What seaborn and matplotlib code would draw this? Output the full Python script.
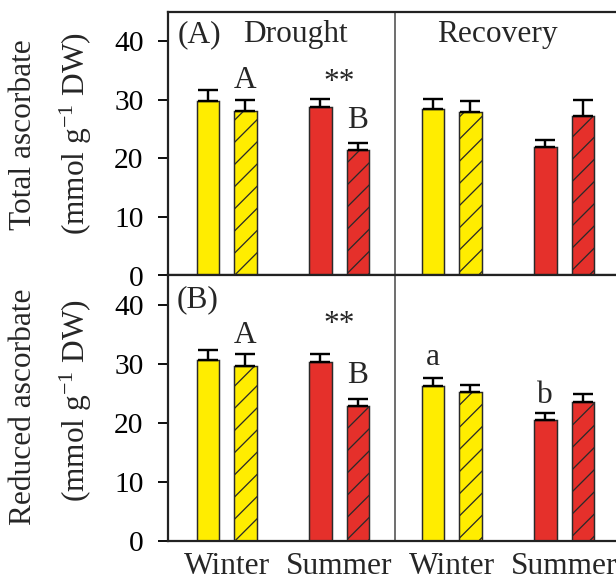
import numpy as np
import pandas as pd
import matplotlib
matplotlib.use("Agg")
import matplotlib.pyplot as plt
import seaborn as sns

# ---------------- data ----------------
groups = ["Drought-Winter", "Drought-Summer", "Recovery-Winter", "Recovery-Summer"]
group_labels = ["Winter", "Summer", "Winter", "Summer"]
seasons = ["Winter", "Summer", "Winter", "Summer"]
treatments = ["Control", "Stress"]

total_control = [29.8, 28.8, 28.4, 22.0]
total_control_err = [1.9, 1.3, 1.7, 1.1]
total_stress = [28.0, 21.5, 27.9, 27.3]
total_stress_err = [1.9, 1.1, 1.9, 2.6]

reduced_control = [30.7, 30.4, 26.2, 20.5]
reduced_control_err = [1.7, 1.3, 1.4, 1.2]
reduced_stress = [29.6, 22.9, 25.3, 23.6]
reduced_stress_err = [2.1, 1.1, 1.1, 1.3]

yticks = [0, 10, 20, 30, 40]
# annotations: (group index, treatment offset (-1 control, +1 stress, 0 pair), text, y value)
annot_total = [(0, 1, "A", 32.0), (1, 0, "**", 31.6), (1, 1, "B", 25.2)]
annot_reduced = [(0, 1, "A", 33.6), (1, 0, "**", 35.4), (1, 1, "B", 26.8),
                 (2, -1, "a", 29.8), (3, -1, "b", 23.4)]

season_colors = {"Winter": "#FFED00", "Summer": "#E5302B"}

# ---------------- style ----------------
sns.set_style("ticks")
plt.rcParams["font.family"] = ["Liberation Serif", "DejaVu Serif"]
plt.rcParams["mathtext.fontset"] = "custom"
plt.rcParams["mathtext.rm"] = "Liberation Serif"
plt.rcParams["mathtext.it"] = "Liberation Serif:italic"
plt.rcParams["hatch.linewidth"] = 0.7
plt.rcParams["hatch.color"] = "#222222"

DPI = 133
fig = plt.figure(figsize=(616 / DPI, 581.1 / DPI), dpi=DPI)
left, width = 168.3 / 616, 454 / 616
top_px, mid_px, bot_px = 12, 275.5, 541
ax_top = fig.add_axes([left, 1 - mid_px / 581, width, (mid_px - top_px) / 581])
ax_bot = fig.add_axes([left, 1 - bot_px / 581, width, (bot_px - mid_px) / 581])

FS = 16


def make_df(ctrl, ctrl_err, stress, stress_err):
    rows = []
    for i, g in enumerate(groups):
        rows.append(dict(group=g, season=seasons[i], treatment="Control", value=ctrl[i], err=ctrl_err[i]))
        rows.append(dict(group=g, season=seasons[i], treatment="Stress", value=stress[i], err=stress_err[i]))
    return pd.DataFrame(rows)


def draw(ax, df, annots):
    sns.barplot(data=df, x="group", y="value", hue="treatment", order=groups,
                hue_order=treatments, width=0.667, gap=0.4, errorbar=None,
                legend=False, ax=ax, palette=["#FFED00", "#E5302B"])
    bar_conts = list(ax.containers)
    for ti, cont in enumerate(bar_conts):
        sub = df[df["treatment"] == treatments[ti]].set_index("group").loc[groups]
        for gi, patch in enumerate(cont.patches):
            patch.set_facecolor(season_colors[sub["season"].iloc[gi]])
            patch.set_edgecolor("#2a2a2a")
            patch.set_linewidth(0.8)
            if treatments[ti] == "Stress":
                patch.set_hatch("//")
            cx = patch.get_x() + patch.get_width() / 2
            h = patch.get_height()
            ax.errorbar([cx], [h], yerr=[[0], [sub["err"].iloc[gi]]], fmt="none",
                        ecolor="black", elinewidth=1.3, capsize=5.6, capthick=1.3, zorder=5)
    ax.set_xlim(-0.518, 3.518)
    ax.set_ylim(0, 45)
    ax.set_yticks(yticks)
    ax.set_yticklabels([str(t) for t in yticks], fontsize=FS)
    ax.tick_params(axis="y", direction="out", length=5.4, width=1, pad=8, colors="black")
    ax.tick_params(axis="x", length=0, pad=6, labelsize=FS)
    ax.set_xlabel("")
    ax.set_ylabel("")
    ax.axvline(1.5, color="#555555", lw=0.9, zorder=0)
    for s in ax.spines.values():
        s.set_linewidth(1.2)
        s.set_color("#222222")
    # annotations
    for gi, side, txt, yv in annots:
        c = bar_conts[0].patches[gi]
        s = bar_conts[1].patches[gi]
        xc = c.get_x() + c.get_width() / 2
        xs = s.get_x() + s.get_width() / 2
        x = xc if side < 0 else (xs if side > 0 else (xc + xs) / 2)
        ax.text(x, yv, txt, ha="center", va="baseline", fontsize=FS + 1)


draw(ax_top, make_df(total_control, total_control_err, total_stress, total_stress_err), annot_total)
draw(ax_bot, make_df(reduced_control, reduced_control_err, reduced_stress, reduced_stress_err), annot_reduced)

ax_top.set_xticks([])
ax_bot.set_xticks(range(len(groups)))
ax_bot.set_xticklabels(group_labels, fontsize=FS + 1)

ax_top.text(0.021, 0.886, "(A)", transform=ax_top.transAxes, ha="left", va="baseline", fontsize=FS + 1)
ax_top.text(0.280, 0.886, "Drought", transform=ax_top.transAxes, ha="center", va="baseline", fontsize=FS + 1)
ax_top.text(0.725, 0.886, "Recovery", transform=ax_top.transAxes, ha="center", va="baseline", fontsize=FS + 1)
ax_bot.text(0.019, 0.880, "(B)", transform=ax_bot.transAxes, ha="left", va="baseline", fontsize=FS + 1)

# y labels
fig.text(24 / 616, 1 - 135 / 581, "Total ascorbate", rotation=90, ha="center", va="center", fontsize=FS + 1)
fig.text(94 / 616, 1 - 134 / 581, "(mmol g$^{-1}$ DW)", rotation=90, ha="right", va="center", fontsize=FS + 1)
fig.text(24 / 616, 1 - 407 / 581, "Reduced ascorbate", rotation=90, ha="center", va="center", fontsize=FS + 1)
fig.text(94 / 616, 1 - 401 / 581, "(mmol g$^{-1}$ DW)", rotation=90, ha="right", va="center", fontsize=FS + 1)

fig.savefig("out.png", dpi=DPI)
